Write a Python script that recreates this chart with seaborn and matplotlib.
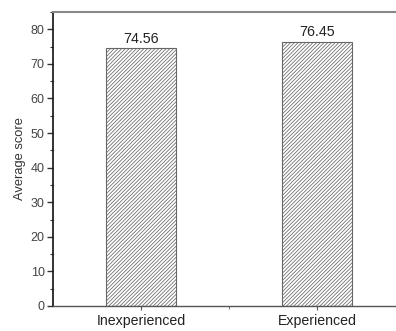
import matplotlib
matplotlib.use("Agg")
import matplotlib.pyplot as plt
import seaborn as sns
import pandas as pd
from matplotlib.ticker import MultipleLocator

groups = ["Inexperienced", "Experienced"]
scores = [74.56, 76.45]

sns.set_style("ticks")
plt.rcParams['font.family'] = ['Liberation Sans', 'DejaVu Sans']
plt.rcParams['hatch.color'] = '#808080'
plt.rcParams['hatch.linewidth'] = 0.55

df = pd.DataFrame({"group": groups, "score": scores})

fig = plt.figure(figsize=(3.96, 3.31), dpi=100)
ax = fig.add_axes([53 / 396, 25 / 331, 352 / 396, 294 / 331])

sns.barplot(data=df, x="group", y="score", ax=ax, width=0.4,
            color="white", edgecolor="#666666", linewidth=0.8)
for p in ax.patches:
    p.set_hatch('/////////')

for i, v in enumerate(scores):
    ax.text(i, v + 0.6, f"{v:.2f}", ha='center', va='bottom',
            fontsize=10.3, color='#222222')

ax.set_xlim(-0.5, 1.5)
ax.set_ylim(0, 85)
ax.yaxis.set_major_locator(MultipleLocator(10))
ax.yaxis.set_minor_locator(MultipleLocator(5))
ax.set_xticks([0, 1], minor=False)
ax.set_xticks([0.5], minor=True)

ax.set_xlabel("")
ax.set_ylabel("Average score", fontsize=9.3, color='#333333', labelpad=3)
ax.tick_params(axis='y', which='major', length=4, width=1, labelsize=9,
               labelcolor='#444444', color='#333333', pad=2)
ax.tick_params(axis='y', which='minor', length=2.5, width=0.8, color='#333333')
ax.tick_params(axis='x', which='major', length=3, width=0.8, labelsize=10.2,
               labelcolor='#222222', color='#555555', pad=3)
ax.tick_params(axis='x', which='minor', length=2, width=0.8, color='#777777')

ax.spines['left'].set_color('#111111')
ax.spines['left'].set_linewidth(1.2)
ax.spines['bottom'].set_color('#555555')
ax.spines['bottom'].set_linewidth(1.0)
ax.spines['top'].set_visible(True)
ax.spines['top'].set_color('#888888')
ax.spines['top'].set_linewidth(1.5)
ax.spines['right'].set_visible(False)

fig.savefig("out.png", dpi=100)
